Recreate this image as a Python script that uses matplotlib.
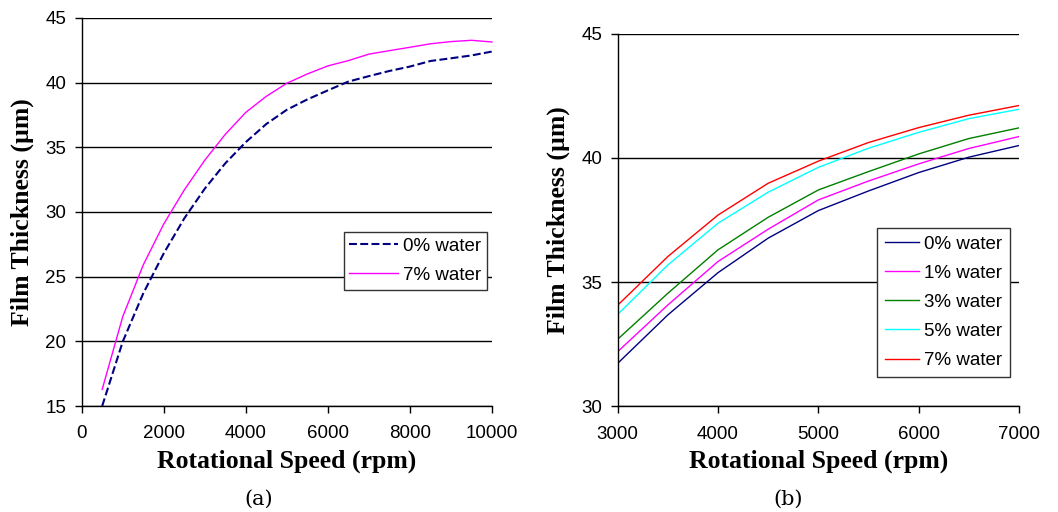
import matplotlib
matplotlib.use('Agg')
import matplotlib.pyplot as plt

# panel (a): 500..10000 rpm
speed_a = [500, 1000, 1500, 2000, 2500, 3000, 3500, 4000, 4500, 5000,
           5500, 6000, 6500, 7000, 7500, 8000, 8500, 9000, 9500, 10000]
water0_a = [15.0, 19.97, 23.7, 26.8, 29.5, 31.8, 33.76, 35.4, 36.8, 37.9,
            38.7, 39.4, 40.08, 40.5, 40.9, 41.24, 41.67, 41.88, 42.1, 42.4]
water7_a = [16.29, 21.9, 25.9, 29.07, 31.7, 34.0, 36.0, 37.7, 38.94, 39.95,
            40.67, 41.29, 41.7, 42.2, 42.47, 42.73, 43.0, 43.17, 43.27, 43.14]

# panel (b): 3000..7000 rpm
speed_b = [3000, 3500, 4000, 4500, 5000, 5500, 6000, 6500, 7000]
water0_b = [31.73, 33.68, 35.38, 36.77, 37.88, 38.67, 39.41, 40.03, 40.5]
water1_b = [32.2, 34.08, 35.83, 37.13, 38.31, 39.07, 39.76, 40.38, 40.86]
water3_b = [32.7, 34.55, 36.3, 37.61, 38.71, 39.45, 40.16, 40.78, 41.21]
water5_b = [33.7, 35.69, 37.37, 38.62, 39.62, 40.39, 41.03, 41.58, 41.96]
water7_b = [34.07, 36.03, 37.7, 38.98, 39.87, 40.62, 41.22, 41.72, 42.11]

labels_b = ['0% water', '1% water', '3% water', '5% water', '7% water']
colors_b = ['#000080', '#FF00FF', '#008000', '#00FFFF', '#FF0000']

tick_font = {'family': 'Liberation Sans', 'size': 13.5}
label_font = {'family': 'Liberation Serif', 'weight': 'bold', 'size': 18.5}
legend_font = {'family': 'Liberation Sans', 'size': 13.5}


def style_axes(ax, xlim, ylim, xticks, yticks):
    ax.set_xlim(*xlim)
    ax.set_ylim(*ylim)
    ax.set_xticks(xticks)
    ax.set_yticks(yticks)
    for s in ['top', 'right']:
        ax.spines[s].set_visible(False)
    for s in ['left', 'bottom']:
        ax.spines[s].set_linewidth(1.0)
        ax.spines[s].set_color('black')
    ax.yaxis.grid(True, color='black', linewidth=1.0)
    ax.set_axisbelow(True)
    ax.tick_params(direction='out', length=5, width=1.0)
    ax.tick_params(axis='x', pad=9)
    ax.tick_params(axis='y', pad=6)
    for lbl in ax.get_xticklabels() + ax.get_yticklabels():
        lbl.set_fontfamily(tick_font['family'])
        lbl.set_fontsize(tick_font['size'])
    ax.set_xlabel('Rotational Speed (rpm)', fontdict=label_font, labelpad=5)
    ax.set_ylabel('Film Thickness (µm)', fontdict=label_font, labelpad=8)


fig = plt.figure(figsize=(10.58, 5.12), dpi=100)

ax1 = fig.add_axes([0.0772, 0.207, 0.3878, 0.758])
ax1.plot(speed_a, water0_a, color='#000080', lw=1.5, linestyle=(0, (3.8, 1.6)),
         label='0% water', clip_on=False)
ax1.plot(speed_a, water7_a, color='#FF00FF', lw=1.0, label='7% water',
         clip_on=False)
style_axes(ax1, (0, 10000), (15, 45), range(0, 10001, 2000), range(15, 46, 5))
leg1 = ax1.legend(loc='upper left', bbox_to_anchor=(0.639, 0.448),
                  prop=legend_font, fancybox=False, framealpha=1,
                  edgecolor='#333333', handlelength=2.6, borderpad=0.3,
                  labelspacing=0.64, handletextpad=0.25, borderaxespad=0)
leg1.get_frame().set_linewidth(1.0)

ax2 = fig.add_axes([0.5838, 0.2064, 0.3793, 0.7277])
series_b = [water0_b, water1_b, water3_b, water5_b, water7_b]
for vals, lab, col in zip(series_b, labels_b, colors_b):
    ax2.plot(speed_b, vals, color=col, lw=1.0, label=lab)
style_axes(ax2, (3000, 7000), (30, 45), range(3000, 7001, 1000), range(30, 46, 5))
leg2 = ax2.legend(loc='upper left', bbox_to_anchor=(0.647, 0.4785),
                  prop=legend_font, fancybox=False, framealpha=1,
                  edgecolor='#333333', handlelength=1.85, borderpad=0.4,
                  labelspacing=0.64, handletextpad=0.25, borderaxespad=0)
leg2.get_frame().set_linewidth(1.0)

fig.text(259 / 1058, 1 - 499 / 512, '(a)', family='DejaVu Serif', size=15,
         ha='center', va='center')
fig.text(788 / 1058, 1 - 499 / 512, '(b)', family='DejaVu Serif', size=15,
         ha='center', va='center')

fig.savefig('out.png', dpi=100)
